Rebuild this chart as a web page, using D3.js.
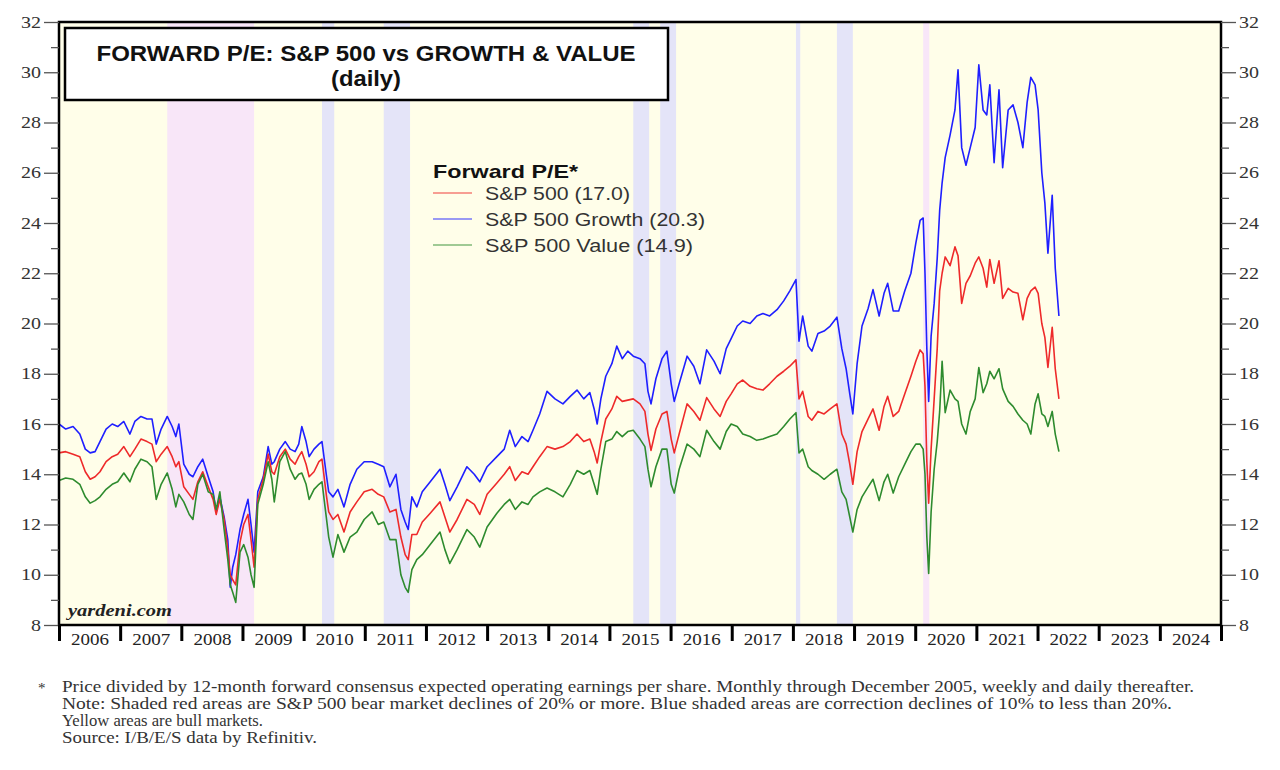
<!DOCTYPE html>
<html><head><meta charset="utf-8">
<script src="https://cdn.jsdelivr.net/npm/d3@7"></script>
<style>body{margin:0;background:#fff}svg{display:block}</style>
</head><body><svg id="c" width="1280" height="770"></svg>
<script>
// ---------- DATA (decimal years) ----------
const dates = [2006.00,2006.11,2006.23,2006.34,2006.43,2006.51,2006.59,2006.67,2006.77,2006.87,2006.96,
2007.06,2007.16,2007.24,2007.34,2007.44,2007.52,2007.59,2007.67,2007.77,2007.85,2007.91,2007.96,
2008.04,2008.13,2008.19,2008.27,2008.35,2008.44,2008.52,2008.57,2008.63,2008.70,2008.76,2008.80,2008.84,2008.89,2008.96,
2009.02,2009.09,2009.14,2009.19,2009.25,2009.34,2009.42,2009.48,2009.52,2009.61,2009.70,2009.78,2009.86,2009.92,2009.97,
2010.04,2010.09,2010.17,2010.25,2010.30,2010.37,2010.41,2010.48,2010.56,2010.66,2010.76,2010.87,2010.99,
2011.12,2011.22,2011.31,2011.41,2011.51,2011.59,2011.66,2011.71,2011.77,2011.85,2011.94,
2012.07,2012.23,2012.31,2012.39,2012.51,2012.67,2012.79,2012.88,
2013.00,2013.16,2013.28,2013.37,2013.46,2013.57,2013.67,2013.75,2013.86,2013.98,
2014.11,2014.24,2014.36,2014.47,2014.58,2014.68,2014.75,2014.80,2014.86,2014.94,
2015.04,2015.12,2015.21,2015.30,2015.39,2015.50,2015.58,2015.63,2015.68,2015.76,2015.86,2015.94,
2016.01,2016.06,2016.14,2016.27,2016.38,2016.48,2016.59,2016.71,2016.81,2016.91,2016.99,
2017.09,2017.18,2017.30,2017.41,2017.51,2017.62,2017.74,2017.85,2017.95,
2018.05,2018.10,2018.16,2018.25,2018.31,2018.41,2018.51,2018.61,2018.72,2018.80,2018.87,2018.93,2018.98,
2019.05,2019.13,2019.23,2019.31,2019.41,2019.49,2019.55,2019.64,2019.73,2019.83,2019.93,
2020.01,2020.08,2020.13,2020.16,2020.19,2020.22,2020.26,2020.31,2020.36,2020.40,2020.44,2020.49,2020.57,2020.65,2020.70,2020.76,2020.83,2020.90,2020.98,
2021.04,2021.11,2021.17,2021.22,2021.29,2021.37,2021.43,2021.52,2021.60,2021.68,2021.76,2021.83,2021.89,2021.96,
2022.01,2022.07,2022.12,2022.17,2022.24,2022.29,2022.35];

const sp500 = [14.85,14.9,14.8,14.7,14.1,13.8,13.9,14.1,14.5,14.7,14.8,
15.1,14.7,15.0,15.4,15.3,15.2,14.5,14.8,15.1,14.7,14.3,14.5,
13.5,13.2,13.0,13.7,14.1,13.5,13.0,12.4,13.0,12.2,11.0,10.0,9.8,9.6,11.3,
12.0,12.4,11.4,10.3,13.0,13.8,14.8,14.1,14.0,14.7,15.0,14.6,14.4,14.7,14.9,
14.4,13.9,14.1,14.5,14.6,13.2,12.5,12.2,12.4,11.7,12.5,12.9,13.3,
13.4,13.2,13.1,12.5,12.6,11.5,10.8,10.6,11.6,11.6,12.1,
12.45,12.9,12.3,11.7,12.2,13.0,12.8,12.4,
13.2,13.65,14.0,14.3,13.75,14.1,14.0,14.3,14.7,15.1,
15.0,15.1,15.3,15.6,15.3,15.4,14.9,14.45,15.3,16.2,
16.6,17.1,16.9,16.95,17.0,16.8,16.5,15.6,14.95,15.8,16.4,16.5,
15.4,14.85,15.6,16.8,16.5,16.15,17.05,16.6,16.3,16.9,17.2,
17.6,17.75,17.5,17.4,17.35,17.6,17.9,18.1,18.3,
18.55,17.0,17.3,16.3,16.15,16.5,16.4,16.6,16.8,15.6,15.2,14.4,13.6,
14.9,15.7,16.2,16.6,15.75,16.7,17.1,16.3,16.5,17.2,17.9,
18.5,18.95,18.8,17.5,14.5,12.85,15.0,17.0,19.0,21.3,22.0,22.65,22.3,23.05,22.7,20.8,21.6,21.9,22.4,
22.65,22.2,21.45,22.55,21.6,22.5,21.0,21.4,21.25,21.2,20.15,21.0,21.3,21.45,
21.2,20.0,19.45,18.25,19.85,18.2,17.0];

const growth = [16.0,15.8,15.9,15.6,15.0,14.85,14.9,15.3,15.8,16.0,15.9,
16.1,15.6,16.1,16.3,16.2,16.2,15.2,15.8,16.3,15.9,15.5,16.0,
14.4,14.0,13.9,14.3,14.6,13.9,13.3,12.5,13.1,12.3,11.4,9.5,10.3,10.8,11.8,
12.4,13.0,12.0,10.9,13.3,13.9,15.1,14.4,14.5,15.0,15.3,15.0,14.9,15.2,15.9,
15.3,14.7,15.0,15.2,15.3,14.0,13.3,13.1,13.4,12.7,13.6,14.2,14.5,
14.5,14.4,14.3,13.5,14.0,12.6,12.1,11.8,13.1,12.7,13.3,
13.7,14.2,13.6,12.95,13.5,14.3,14.0,13.7,
14.3,14.7,15.0,15.75,15.1,15.5,15.3,15.75,16.4,17.3,
17.0,16.8,17.1,17.35,17.0,17.25,16.6,16.0,17.0,17.9,
18.4,19.1,18.6,18.9,18.7,18.6,18.4,17.3,16.8,17.8,18.6,18.9,
17.6,16.9,17.6,18.7,18.3,17.6,18.95,18.5,18.0,19.0,19.4,
19.9,20.1,20.0,20.3,20.4,20.3,20.55,20.9,21.3,
21.75,19.3,20.3,19.1,18.9,19.6,19.7,19.9,20.25,19.0,18.2,17.2,16.4,
18.4,19.9,20.6,21.35,20.3,21.2,21.6,20.5,20.5,21.3,22.0,
23.2,24.1,24.2,22.0,19.0,16.9,19.5,20.8,22.6,24.5,25.6,26.6,27.5,28.5,30.1,27.0,26.3,27.0,27.8,
30.3,28.5,28.3,29.5,26.4,29.3,26.2,28.5,28.7,28.0,27.0,28.8,29.8,29.5,
28.5,26.0,24.8,22.8,25.1,22.2,20.3];

const value = [13.75,13.85,13.8,13.6,13.1,12.85,12.95,13.1,13.4,13.6,13.7,
14.05,13.7,14.2,14.6,14.5,14.3,13.0,13.6,14.05,13.4,12.7,13.2,
12.9,12.4,12.2,13.6,14.0,13.3,13.2,12.6,13.3,11.8,10.6,9.6,9.3,8.9,10.9,
11.2,10.7,10.0,9.5,12.8,13.6,14.5,13.8,12.9,14.5,14.9,14.2,13.8,14.0,14.05,
13.6,13.0,13.4,13.6,13.7,12.3,11.5,10.7,11.6,10.9,11.5,11.7,12.2,
12.5,12.0,12.1,11.4,11.4,10.0,9.5,9.3,10.2,10.6,10.8,
11.2,11.7,11.0,10.45,11.0,11.8,11.5,11.1,
11.9,12.45,12.8,13.0,12.6,12.9,12.8,13.1,13.3,13.45,
13.3,13.1,13.6,14.15,14.0,14.15,13.6,13.2,14.2,15.3,
15.4,15.7,15.5,15.7,15.75,15.4,15.1,14.2,13.5,14.3,15.0,15.0,
13.6,13.25,14.2,15.2,15.0,14.7,15.75,15.3,15.0,15.7,16.0,
15.9,15.6,15.5,15.35,15.4,15.5,15.6,15.9,16.2,
16.45,14.85,15.0,14.3,14.15,14.0,13.8,14.0,14.2,13.3,13.0,12.3,11.7,
12.6,13.1,13.5,13.8,12.95,13.7,14.0,13.25,13.9,14.4,14.9,
15.2,15.2,15.0,14.0,11.5,10.05,12.5,14.2,15.3,16.5,18.5,16.45,17.35,17.0,16.9,16.0,15.6,16.5,17.0,
18.25,17.25,17.6,18.1,17.8,18.2,17.4,16.9,16.7,16.4,16.15,16.0,15.6,16.8,
17.2,16.4,16.3,15.9,16.5,15.6,14.9];

const seriesNames = ["S&P 500 (17.0)", "S&P 500 Growth (20.3)", "S&P 500 Value (14.9)"];
const seriesColors = ["#ee2a2a", "#1f1fff", "#2e8b2e"];
const yearLabels = [2006,2007,2008,2009,2010,2011,2012,2013,2014,2015,2016,2017,2018,2019,2020,2021,2022,2023,2024];
const yMajorTicks = [8,10,12,14,16,18,20,22,24,26,28,30,32];
const yMinorTicks = [9,11,13,15,17,19,21,23,25,27,29,31];
const bearMarkets = [[2007.77, 2009.19], [2020.13, 2020.23]];
const corrections = [[2010.30, 2010.50], [2011.31, 2011.74], [2015.39, 2015.65], [2015.83, 2016.09], [2018.05, 2018.12], [2018.72, 2018.98]];
const footnotes = [
  "Price divided by 12-month forward consensus expected operating earnings per share. Monthly through December 2005, weekly and daily thereafter.",
  "Note: Shaded red areas are S&P 500 bear market declines of 20% or more.  Blue shaded areas are correction declines of 10% to less than 20%.",
  "Yellow areas are bull markets.",
  "Source: I/B/E/S data by Refinitiv."
];

// ---------- LAYOUT ----------
const svg = d3.select("#c");
const L = 59, R = 1221, T = 22, B = 625;
const x = d3.scaleLinear().domain([2006, 2025]).range([L, R]);
const y = d3.scaleLinear().domain([8, 32]).range([B, T]);
const serif = "'Liberation Serif','Times New Roman',serif";
const sans = "'Liberation Sans',Arial,sans-serif";

// plot background (bull = yellow)
svg.append("rect").attr("x", L).attr("y", T).attr("width", R - L).attr("height", B - T).attr("fill", "#fffee9");
svg.append("g").selectAll("rect").data(bearMarkets).join("rect")
  .attr("x", d => x(d[0])).attr("width", d => x(d[1]) - x(d[0]))
  .attr("y", T).attr("height", B - T).attr("fill", "#f8e6f8");
svg.append("g").selectAll("rect").data(corrections).join("rect")
  .attr("x", d => x(d[0])).attr("width", d => Math.max(2, x(d[1]) - x(d[0])))
  .attr("y", T).attr("height", B - T).attr("fill", "#e4e4f8");

// lines
const series = [growth, sp500, value];
const cols = [seriesColors[1], seriesColors[0], seriesColors[2]];
const line = d3.line().x((d, i) => x(dates[i])).y(d => y(d));
series.forEach((s, k) => {
  svg.append("path").datum(s).attr("d", line).attr("fill", "none")
    .attr("stroke", cols[k]).attr("stroke-width", 1.6).attr("stroke-linejoin", "round");
});

// frame
svg.append("rect").attr("x", L).attr("y", T).attr("width", R - L).attr("height", B - T)
  .attr("fill", "none").attr("stroke", "#000").attr("stroke-width", 2.5);

// y axes
function yAxis(g, side) {
  const ax = side === "left" ? d3.axisLeft(y) : d3.axisRight(y);
  g.call(ax.tickValues(yMajorTicks).tickSize(15).tickPadding(3).tickFormat(d3.format("d")));
  g.select(".domain").remove();
  g.selectAll(".tick line").attr("stroke", "#555").attr("stroke-width", 1.3);
  g.selectAll(".tick text").attr("font-family", serif).attr("font-size", 16).attr("fill", "#333")
    .attr("textLength", d => d < 10 ? 10 : 20).attr("lengthAdjust", "spacingAndGlyphs");
  const m = side === "left" ? d3.axisLeft(y) : d3.axisRight(y);
  const g2 = g.append("g").call(m.tickValues(yMinorTicks).tickSize(8).tickFormat(""));
  g2.select(".domain").remove();
  g2.selectAll(".tick line").attr("stroke", "#555").attr("stroke-width", 1.3);
}
svg.append("g").attr("transform", `translate(${L},0)`).call(g => yAxis(g, "left"));
svg.append("g").attr("transform", `translate(${R},0)`).call(g => yAxis(g, "right"));

// bottom axis: year boundary ticks + centred labels
const yearEdges = yearLabels.concat([2025]);
const gx = svg.append("g").attr("transform", `translate(0,${B})`)
  .call(d3.axisBottom(x).tickValues(yearEdges).tickSize(16).tickFormat(""));
gx.select(".domain").remove();
gx.selectAll(".tick line").attr("stroke", "#000").attr("stroke-width", 3);
const gl = svg.append("g").attr("transform", `translate(0,${B})`)
  .call(d3.axisBottom(x).tickValues(yearLabels.map(d => d + 0.5)).tickSize(0).tickPadding(9)
    .tickFormat(d => String(Math.floor(d))));
gl.select(".domain").remove();
gl.selectAll(".tick text").attr("font-family", serif).attr("font-size", 16).attr("fill", "#222")
  .attr("textLength", 38).attr("lengthAdjust", "spacingAndGlyphs");

// title box
svg.append("rect").attr("x", 65).attr("y", 28).attr("width", 603).attr("height", 72)
  .attr("fill", "#fff").attr("stroke", "#000").attr("stroke-width", 2.5);
svg.append("text").attr("x", 366).attr("y", 61).attr("text-anchor", "middle")
  .attr("font-family", sans).attr("font-weight", "bold").attr("font-size", 22).attr("fill", "#111")
  .attr("textLength", 539).attr("lengthAdjust", "spacingAndGlyphs")
  .text("FORWARD P/E: S&P 500 vs GROWTH & VALUE");
svg.append("text").attr("x", 366).attr("y", 86).attr("text-anchor", "middle")
  .attr("font-family", sans).attr("font-weight", "bold").attr("font-size", 22).attr("fill", "#111")
  .attr("textLength", 70).attr("lengthAdjust", "spacingAndGlyphs")
  .text("(daily)");

// legend
const legendWidths = [145, 220, 208];
const lg = svg.append("g");
lg.append("text").attr("x", 433).attr("y", 178).attr("font-family", sans).attr("font-weight", "bold")
  .attr("font-size", 19).attr("fill", "#111")
  .attr("textLength", 145).attr("lengthAdjust", "spacingAndGlyphs").text("Forward P/E*");
seriesNames.forEach((n, i) => {
  const yy = 193 + i * 26;
  lg.append("line").attr("x1", 433).attr("x2", 472).attr("y1", yy).attr("y2", yy)
    .attr("stroke", seriesColors[i]).attr("stroke-width", 1.5).attr("opacity", 0.6);
  lg.append("text").attr("x", 485).attr("y", yy + 7).attr("font-family", sans).attr("font-size", 17.5)
    .attr("fill", "#333").attr("textLength", legendWidths[i]).attr("lengthAdjust", "spacingAndGlyphs").text(n);
});

// watermark
svg.append("text").attr("x", 68).attr("y", 616).attr("font-family", serif).attr("font-style", "italic")
  .attr("font-weight", "bold").attr("font-size", 16).attr("fill", "#222")
  .attr("textLength", 104).attr("lengthAdjust", "spacingAndGlyphs").text("yardeni.com");

// footnotes
svg.append("text").attr("x", 38).attr("y", 693).attr("font-family", serif).attr("font-size", 15)
  .attr("fill", "#333").text("*");
const footWidths = [1132, 1110, 201, 255];
footnotes.forEach((t, i) => {
  svg.append("text").attr("x", 62).attr("y", 692 + i * 17).attr("font-family", serif)
    .attr("font-size", 16).attr("fill", "#333")
    .attr("textLength", footWidths[i]).attr("lengthAdjust", "spacingAndGlyphs").text(t);
});
</script></body></html>
